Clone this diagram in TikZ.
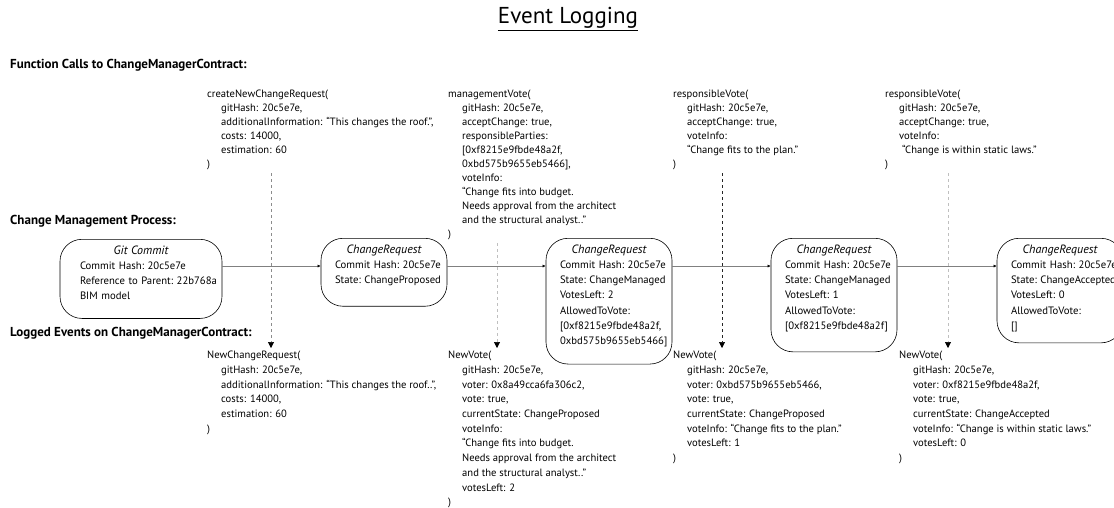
\documentclass[tikz,border=0pt]{standalone}
\usepackage{fontspec}
\setmainfont{PT Sans}
\usetikzlibrary{arrows.meta}

\newcommand\ind{\hspace*{14pt}}
\newcommand\boxtitle[1]{\makebox[\hsize][c]{\fontsize{12}{15}\selectfont\itshape #1}}
\newcommand\padbottom[1]{\rule[-#1]{0pt}{#1}}
\newcommand\nohyph{\hyphenpenalty=10000 \exhyphenpenalty=10000\relax}

\tikzset{
  heading/.style={anchor=west, inner sep=0pt, font=\bfseries\fontsize{13}{15}\selectfont},
  callbox/.style={anchor=north west, inner sep=0pt, align=left, font=\fontsize{10.6}{14}\selectfont},
  eventbox/.style={callbox, font=\fontsize{10.6}{14.7}\selectfont},
  state/.style={draw, line width=0.6pt, rounded corners=22pt, anchor=north, align=left,
    text width=98pt, inner xsep=14pt, inner ysep=6.5pt,
    font=\fontsize{10.7}{15.2}\selectfont, execute at begin node=\nohyph},
  flow/.style={draw=black!50, line width=0.5pt, -{Latex[length=3pt,width=3pt,color=black]}},
  logline/.style={dashed, line width=0.6pt, shorten <=3pt, shorten >=3pt,
    -{Triangle[length=6pt,width=6pt,color=black]}},
}

\begin{document}
\begin{tikzpicture}[x=1pt,y=-1pt]
\useasboundingbox (0,0) rectangle (1114,507);

\node (title) at (568,19) {\fontsize{23}{27}\selectfont\underline{Event Logging}};

% section headings
\node[heading] (hcalls) at (10,65) {Function Calls to ChangeManagerContract:};
\node[heading] (hprocess) at (10,221) {Change Management Process:};
\node[heading] (hevents) at (10,333) {Logged Events on ChangeManagerContract:};

% function calls
\node[callbox] (fc1) at (207,90) {createNewChangeRequest(\\
  \ind gitHash: 20c5e7e,\\
  \ind additionalInformation: “This changes the roof.”,\\
  \ind costs: 14000,\\
  \ind estimation: 60\\
  )};
\node[callbox] (fc2) at (448,90) {managementVote(\\
  \ind gitHash: 20c5e7e,\\
  \ind acceptChange: true,\\
  \ind responsibleParties:\\
  \ind [0xf8215e9fbde48a2f,\\
  \ind 0xbd575b9655eb5466],\\
  \ind voteInfo:\\
  \ind “Change fits into budget.\\
  \ind Needs approval from the architect\\
  \ind and the structural analyst..”\\
  )};
\node[callbox] (fc3) at (673,90) {responsibleVote(\\
  \ind gitHash: 20c5e7e,\\
  \ind acceptChange: true,\\
  \ind voteInfo:\\
  \ind “Change fits to the plan.”\\
  )};
\node[callbox] (fc4) at (885,90) {responsibleVote(\\
  \ind gitHash: 20c5e7e,\\
  \ind acceptChange: true,\\
  \ind voteInfo:\\
  \ind\ “Change is within static laws.”\\
  )};

% change management process
\node[state, text width=122pt, inner xsep=20pt] (gc) at (141,239) {\boxtitle{Git Commit}\\
  Commit~Hash:~20c5e7e\\
  Reference~to~Parent:~22b768a\\
  BIM~model\padbottom{12pt}};
\node[state] (cr1) at (384,238) {\boxtitle{ChangeRequest}\\
  Commit~Hash:~20c5e7e\\
  State:~ChangeProposed\padbottom{16pt}};
\node[state] (cr2) at (609,238) {\boxtitle{ChangeRequest}\\
  Commit~Hash:~20c5e7e\\
  State:~ChangeManaged\\
  VotesLeft:~2\\
  AllowedToVote:\\
  {[}0xf8215e9fbde48a2f,\\
  0xbd575b9655eb5466]\padbottom{13pt}};
\node[state] (cr3) at (834,238) {\boxtitle{ChangeRequest}\\
  Commit~Hash:~20c5e7e\\
  State:~ChangeManaged\\
  VotesLeft:~1\\
  AllowedToVote:\\
  {[}0xf8215e9fbde48a2f]\padbottom{16pt}};
\node[state] (cr4) at (1060,238) {\boxtitle{ChangeRequest}\\
  Commit~Hash:~20c5e7e\\
  State:~ChangeAccepted\\
  VotesLeft:~0\\
  AllowedToVote:\\
  {[}]\padbottom{7pt}};

\coordinate (flowy) at (0,266);
\draw[flow] (gc.east |- flowy) -- (cr1.west |- flowy);
\draw[flow] (cr1.east |- flowy) -- (cr2.west |- flowy);
\draw[flow] (cr2.east |- flowy) -- (cr3.west |- flowy);
\draw[flow] (cr3.east |- flowy) -- (cr4.west |- flowy);

% logged events
\node[eventbox] (ev1) at (207,351) {NewChangeRequest(\\
  \ind gitHash: 20c5e7e,\\
  \ind additionalInformation: “This changes the roof..”,\\
  \ind costs: 14000,\\
  \ind estimation: 60\\
  )};
\node[eventbox] (ev2) at (448,351) {NewVote(\\
  \ind gitHash: 20c5e7e,\\
  \ind voter: 0x8a49cca6fa306c2,\\
  \ind vote: true,\\
  \ind currentState: ChangeProposed\\
  \ind voteInfo:\\
  \ind “Change fits into budget.\\
  \ind Needs approval from the architect\\
  \ind and the structural analyst..”\\
  \ind votesLeft: 2\\
  )};
\node[eventbox] (ev3) at (673,351) {NewVote(\\
  \ind gitHash: 20c5e7e,\\
  \ind voter: 0xbd575b9655eb5466,\\
  \ind vote: true,\\
  \ind currentState: ChangeProposed\\
  \ind voteInfo: “Change fits to the plan.”\\
  \ind votesLeft: 1\\
  )};
\node[eventbox] (ev4) at (899,351) {NewVote(\\
  \ind gitHash: 20c5e7e,\\
  \ind voter: 0xf8215e9fbde48a2f,\\
  \ind vote: true,\\
  \ind currentState: ChangeAccepted\\
  \ind voteInfo: “Change is within static laws.”\\
  \ind votesLeft: 0\\
  )};

% calls emit events
\draw[logline, black!45] ([xshift=64pt]fc1.south west) -- ([xshift=64pt]ev1.north west);
\draw[logline, black!25] ([xshift=49pt]fc2.south west) -- ([xshift=49pt]ev2.north west);
\draw[logline, black!85] ([xshift=49pt]fc3.south west) -- ([xshift=49pt]ev3.north west);
\draw[logline, black!25] ([xshift=63pt]fc4.south west) -- ([xshift=49pt]ev4.north west);
\end{tikzpicture}
\end{document}
